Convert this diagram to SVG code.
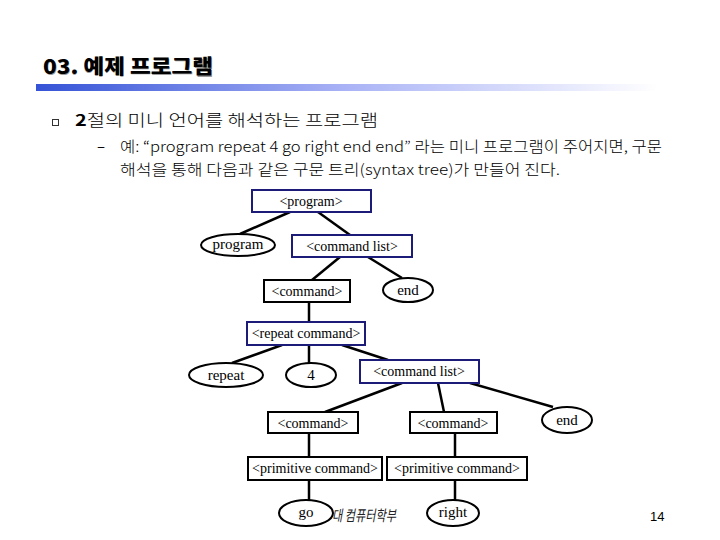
<svg xmlns="http://www.w3.org/2000/svg" width="720" height="540" viewBox="0 0 720 540">
<defs>
<linearGradient id="bar" x1="0" y1="0" x2="1" y2="0">
<stop offset="0" stop-color="#3553d6"/>
<stop offset="0.5" stop-color="#aab3f6"/>
<stop offset="1" stop-color="#ffffff"/>
</linearGradient>
<style>
.ko{font-family:"Noto Sans CJK KR","Noto Sans",sans-serif;fill:#000}
.t{font-family:"Liberation Serif","Times New Roman",serif;font-size:14px;fill:#000;text-anchor:middle}
.e{font-size:15px}
.nb{fill:#fff;stroke:#1c1c78;stroke-width:2}
.kb{fill:#fff;stroke:#000;stroke-width:2}
.el{fill:#fff;stroke:#000;stroke-width:2}
.ln{stroke:#000;stroke-width:2.5;fill:none}
</style>
</defs>
<rect width="720" height="540" fill="#fff"/>
<text class="ko" x="44" y="75" font-size="20" font-weight="bold" style="fill:#9a9a9a" textLength="170" lengthAdjust="spacingAndGlyphs">03. 예제 프로그램</text>
<text class="ko" x="43" y="74" font-size="20" font-weight="900" textLength="170" lengthAdjust="spacingAndGlyphs">03. 예제 프로그램</text>
<rect x="36" y="84" width="622" height="7" fill="url(#bar)"/>
<rect x="52.5" y="119.5" width="6" height="6" fill="none" stroke="#333" stroke-width="1"/>
<text class="ko" x="75" y="126" font-size="16" font-weight="300" textLength="303" lengthAdjust="spacingAndGlyphs"><tspan font-weight="bold">2</tspan>절의 미니 언어를 해석하는 프로그램</text>
<text class="ko" x="97" y="152" font-size="15">–</text>
<text class="ko" x="120" y="152" font-size="15" font-weight="300" textLength="542" lengthAdjust="spacingAndGlyphs">예: “program repeat 4 go right end end” 라는 미니 프로그램이 주어지면, 구문</text>
<text class="ko" x="120" y="175" font-size="15" font-weight="300" textLength="440" lengthAdjust="spacingAndGlyphs">해석을 통해 다음과 같은 구문 트리(syntax tree)가 만들어 진다.</text>
<g id="connectors">
<line class="ln" x1="290" y1="212" x2="240" y2="234"/>
<line class="ln" x1="318" y1="212" x2="350" y2="235"/>
<line class="ln" x1="340" y1="257" x2="312" y2="280"/>
<line class="ln" x1="368" y1="257" x2="402" y2="278"/>
<line class="ln" x1="309" y1="302" x2="309" y2="322"/>
<line class="ln" x1="282" y1="345" x2="232" y2="363"/>
<line class="ln" x1="309" y1="345" x2="309" y2="363"/>
<line class="ln" x1="342" y1="345" x2="388" y2="360"/>
<line class="ln" x1="402" y1="383" x2="325" y2="412"/>
<line class="ln" x1="438" y1="383" x2="444" y2="412"/>
<line class="ln" x1="470" y1="383" x2="553" y2="407"/>
<line class="ln" x1="309" y1="433" x2="309" y2="457"/>
<line class="ln" x1="455" y1="433" x2="455" y2="457"/>
<line class="ln" x1="309" y1="480" x2="309" y2="500"/>
<line class="ln" x1="455" y1="480" x2="455" y2="500"/>
</g>
<text x="332" y="521" font-family="Noto Sans CJK KR, sans-serif" font-size="15" font-style="italic" fill="#222" textLength="64" lengthAdjust="spacingAndGlyphs">대 컴퓨터학부</text>
<g id="n-program"><rect class="nb" x="252" y="190" width="119" height="22"/><text class="t" x="311" y="206">&lt;program&gt;</text></g>
<g id="n-program-leaf"><ellipse class="el" cx="238" cy="245" rx="37" ry="11"/><text class="t e" x="238" y="249">program</text></g>
<g id="n-cmdlist1"><rect class="nb" x="292" y="235" width="120" height="22"/><text class="t" x="352" y="251">&lt;command list&gt;</text></g>
<g id="n-command1"><rect class="kb" x="264" y="280" width="86" height="22"/><text class="t" x="307" y="296">&lt;command&gt;</text></g>
<g id="n-end1"><ellipse class="el" cx="408" cy="290" rx="25" ry="12"/><text class="t e" x="408" y="295">end</text></g>
<g id="n-repeatcmd"><rect class="nb" x="247" y="322" width="118" height="23"/><text class="t" x="306" y="338">&lt;repeat command&gt;</text></g>
<g id="n-repeat"><ellipse class="el" cx="226" cy="375" rx="37" ry="12"/><text class="t e" x="226" y="380">repeat</text></g>
<g id="n-4"><ellipse class="el" cx="311" cy="375" rx="25" ry="12"/><text class="t e" x="311" y="380">4</text></g>
<g id="n-cmdlist2"><rect class="nb" x="360" y="360" width="119" height="23"/><text class="t" x="419" y="376">&lt;command list&gt;</text></g>
<g id="n-command2"><rect class="kb" x="268" y="412" width="90" height="21"/><text class="t" x="313" y="428">&lt;command&gt;</text></g>
<g id="n-command3"><rect class="kb" x="410" y="412" width="87" height="21"/><text class="t" x="453" y="428">&lt;command&gt;</text></g>
<g id="n-end2"><ellipse class="el" cx="567" cy="420" rx="25" ry="13"/><text class="t e" x="567" y="425">end</text></g>
<g id="n-prim1"><rect class="kb" x="248" y="457" width="134" height="23"/><text class="t" x="315" y="473">&lt;primitive command&gt;</text></g>
<g id="n-prim2"><rect class="kb" x="387" y="457" width="140" height="23"/><text class="t" x="457" y="473">&lt;primitive command&gt;</text></g>
<g id="n-go"><ellipse class="el" cx="306" cy="513" rx="27" ry="13"/><text class="t e" x="306" y="517">go</text></g>
<g id="n-right"><ellipse class="el" cx="453" cy="513" rx="26" ry="13"/><text class="t e" x="453" y="517">right</text></g>
<text x="650" y="521" font-family="Liberation Sans, Arial, sans-serif" font-size="13" fill="#000">14</text>
</svg>
